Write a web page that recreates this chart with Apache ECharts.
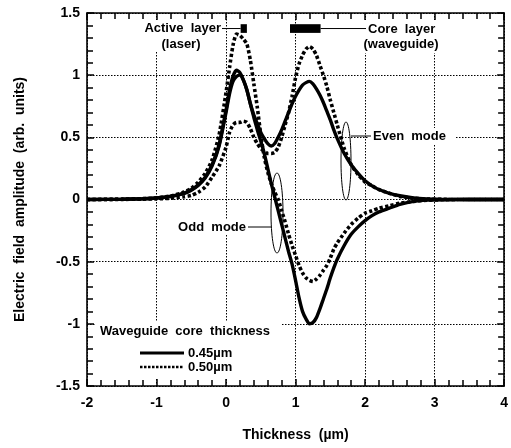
<!DOCTYPE html>
<html><head><meta charset="utf-8">
<script src="https://cdn.jsdelivr.net/npm/echarts@6/dist/echarts.min.js"></script>
<style>html,body{margin:0;padding:0;background:#fff}#c{width:511px;height:448px}</style>
</head><body><div id="c"></div>
<script>
// Thickness (µm) sample positions
const xs = [-2,-1.5,-1.2,-1,-0.8,-0.6,-0.5,-0.4,-0.3,-0.2,-0.1,0,0.05,0.1,0.15,0.2,0.25,0.3,0.35,0.4,0.45,0.5,0.55,0.6,0.65,0.7,0.75,0.8,0.85,0.9,0.95,1.0,1.05,1.1,1.15,1.2,1.25,1.3,1.35,1.4,1.45,1.5,1.55,1.6,1.7,1.8,1.9,2.0,2.1,2.2,2.35,2.5,2.7,2.9,3.1,3.5,4];
// 0.45 µm core, even mode (solid)
const even045 = [0,0.002,0.006,0.012,0.025,0.052,0.078,0.118,0.18,0.28,0.44,0.72,0.88,0.99,1.04,1.02,0.96,0.88,0.77,0.68,0.61,0.54,0.49,0.45,0.43,0.45,0.5,0.56,0.63,0.7,0.77,0.83,0.88,0.92,0.94,0.95,0.93,0.89,0.84,0.78,0.71,0.64,0.56,0.49,0.37,0.28,0.21,0.15,0.11,0.08,0.05,0.03,0.012,0.005,0.002,0,0];
// 0.45 µm core, odd mode (solid)
const odd045 = [0,0.002,0.006,0.012,0.024,0.05,0.075,0.113,0.172,0.27,0.43,0.7,0.85,0.95,0.99,1.0,0.96,0.88,0.77,0.66,0.56,0.47,0.37,0.25,0.13,0.02,-0.09,-0.2,-0.31,-0.42,-0.52,-0.65,-0.79,-0.9,-0.96,-1.0,-0.99,-0.95,-0.88,-0.8,-0.72,-0.63,-0.55,-0.48,-0.37,-0.28,-0.22,-0.17,-0.13,-0.1,-0.07,-0.04,-0.015,-0.005,-0.002,0,0];
// 0.50 µm core, even mode (dotted)
const even050 = [0,0.001,0.003,0.005,0.01,0.022,0.032,0.058,0.1,0.18,0.27,0.42,0.54,0.6,0.62,0.62,0.63,0.62,0.57,0.5,0.45,0.41,0.39,0.37,0.37,0.38,0.42,0.5,0.6,0.7,0.83,0.98,1.09,1.16,1.21,1.23,1.21,1.16,1.08,1.0,0.91,0.8,0.7,0.6,0.41,0.28,0.2,0.14,0.11,0.08,0.05,0.025,0.01,0.004,0.001,0,0];
// 0.50 µm core, odd mode (dotted)
const odd050 = [0,0.002,0.007,0.013,0.028,0.06,0.09,0.14,0.21,0.32,0.52,0.86,1.06,1.24,1.33,1.32,1.29,1.25,1.12,0.93,0.74,0.52,0.34,0.22,0.13,0.06,0.0,-0.09,-0.18,-0.28,-0.37,-0.45,-0.53,-0.59,-0.63,-0.65,-0.66,-0.64,-0.61,-0.57,-0.53,-0.47,-0.4,-0.35,-0.27,-0.2,-0.15,-0.11,-0.09,-0.07,-0.05,-0.03,-0.015,-0.006,-0.002,0,0];
// layer markers (x extent in µm)
const activeLayer = [0.21, 0.30];
const coreLayer = [0.92, 1.36];
const markerY = [1.34, 1.41];
const legendLabels = ['0.45\u00b5m', '0.50\u00b5m'];

const pairs = ys => xs.map((x, i) => [x, ys[i]]);
const FONT = 'Liberation Sans, Arial, sans-serif';
const solid = {color: '#000', width: 3.4, type: 'solid'};
const dotted = {color: '#000', width: 3.6, type: [3.2, 2.4]};

const axisCommon = {
  type: 'value',
  axisLine: {show: true, onZero: false, lineStyle: {color: '#000', width: 1.6}},
  axisTick: {show: true, inside: true, length: 7, lineStyle: {color: '#000', width: 1.5}},
  minorTick: {show: true, splitNumber: 5, length: 6, lineStyle: {color: '#000', width: 1.5}},
};

const chart = echarts.init(document.getElementById('c'), null, {renderer: 'canvas'});
const option = {
  animation: false,
  backgroundColor: '#fff',
  grid: {left: 87, right: 2, top: 13, bottom: 62},
  xAxis: [
    Object.assign({}, axisCommon, {
      min: -2, max: 4, interval: 1, position: 'bottom',
      axisLabel: {color: '#000', fontFamily: FONT, fontWeight: 'bold', fontSize: 14, margin: 10},
      splitLine: {show: true, lineStyle: {color: '#000', type: [1.5, 1.5], width: 1}},
      name: 'Thickness  (\u00b5m)', nameLocation: 'middle', nameGap: 42,
      nameTextStyle: {color: '#000', fontFamily: FONT, fontWeight: 'bold', fontSize: 14}
    }),
    Object.assign({}, axisCommon, {
      min: -2, max: 4, interval: 1, position: 'top',
      axisLabel: {show: false}, splitLine: {show: false}
    })
  ],
  yAxis: [
    Object.assign({}, axisCommon, {
      min: -1.5, max: 1.5, interval: 0.5, position: 'left',
      axisLabel: {color: '#000', fontFamily: FONT, fontWeight: 'bold', fontSize: 14, margin: 7},
      splitLine: {show: true, lineStyle: {color: '#000', type: [1.5, 1.5], width: 1}},
      name: 'Electric  field  amplitude  (arb.  units)', nameLocation: 'middle', nameGap: 60,
      nameTextStyle: {color: '#000', fontFamily: FONT, fontWeight: 'bold', fontSize: 14}
    }),
    Object.assign({}, axisCommon, {
      min: -1.5, max: 1.5, interval: 0.5, position: 'right',
      axisLabel: {show: false}, splitLine: {show: false}
    })
  ],
  series: [
    {type: 'line', data: pairs(even045), showSymbol: false, smooth: 0.2, lineStyle: solid, z: 3},
    {type: 'line', data: pairs(odd045), showSymbol: false, smooth: 0.2, lineStyle: solid, z: 3},
    {type: 'line', data: pairs(even050), showSymbol: false, smooth: 0.2, lineStyle: dotted, z: 3},
    {type: 'line', data: pairs(odd050), showSymbol: false, smooth: 0.2, lineStyle: dotted, z: 3}
  ]
};
chart.setOption(option);

const P = (x, y) => chart.convertToPixel({gridIndex: 0}, [x, y]);
const a0 = P(activeLayer[0], markerY[1]), a1 = P(activeLayer[1], markerY[0]);
const c0 = P(coreLayer[0], markerY[1]), c1 = P(coreLayer[1], markerY[0]);
const midY = (a0[1] + a1[1]) / 2;
const txt = (x, y, s, align, size) => ({type: 'text', z: 110, x: x, y: y,
  style: {text: s, fill: '#000', font: 'bold ' + (size || 13) + 'px ' + FONT, textAlign: align || 'left', textVerticalAlign: 'middle'}});
const box = (x, y, w, h) => ({type: 'rect', z: 100, shape: {x: x, y: y, width: w, height: h}, style: {fill: '#fff'}});
const line = (x1, y1, x2, y2, w, dash) => ({type: 'line', z: 110, shape: {x1: x1, y1: y1, x2: x2, y2: y2},
  style: {stroke: '#000', lineWidth: w || 1, lineDash: dash || null}});

chart.setOption({graphic: [
  box(138, 20, 86, 32), box(356, 20, 90, 33), box(368, 128, 87, 16), box(176, 219, 73, 16), box(95, 322, 187, 57),
  {type: 'rect', z: 110, shape: {x: a0[0], y: a0[1], width: a1[0] - a0[0], height: a1[1] - a0[1]}, style: {fill: '#000'}},
  {type: 'rect', z: 110, shape: {x: c0[0], y: c0[1], width: c1[0] - c0[0], height: c1[1] - c0[1]}, style: {fill: '#000'}},
  line(222, midY, a0[0], midY), line(c1[0], midY, 366, midY),
  txt(221, 28, 'Active  layer', 'right'), txt(181, 44, '(laser)', 'center'),
  txt(368, 29, 'Core  layer', 'left'), txt(401, 44, '(waveguide)', 'center'),
  {type: 'ellipse', z: 110, shape: {cx: 346, cy: 161, rx: 5, ry: 39}, style: {fill: null, stroke: '#000', lineWidth: 1}},
  line(351, 136, 371, 136), txt(373, 136, 'Even  mode', 'left'),
  {type: 'ellipse', z: 110, shape: {cx: 277, cy: 213, rx: 6, ry: 40}, style: {fill: null, stroke: '#000', lineWidth: 1}},
  line(248, 227, 271, 227), txt(246, 227, 'Odd  mode', 'right'),
  txt(100, 331, 'Waveguide  core  thickness', 'left'),
  line(140, 353, 184, 353, 3), txt(188, 353, legendLabels[0], 'left'),
  line(140, 367, 184, 367, 2.5, [2.5, 1.5]), txt(188, 367, legendLabels[1], 'left')
]});
</script></body></html>
